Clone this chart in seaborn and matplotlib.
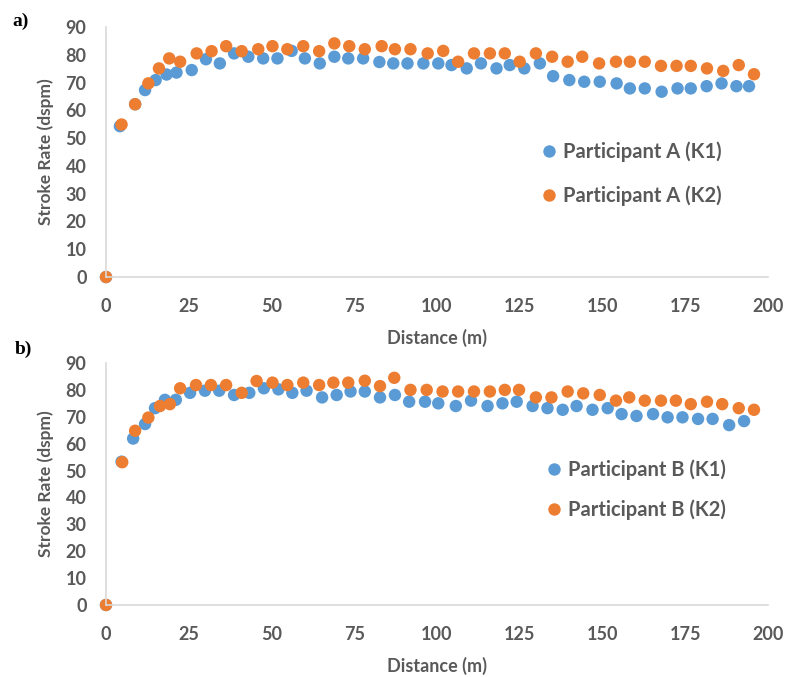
import numpy as np
import pandas as pd
import matplotlib
matplotlib.use('Agg')
import matplotlib.pyplot as plt
import seaborn as sns

# --- data ---
dist_A1 = [0, 4.2, 8.8, 11.8, 15, 18.3, 21.3, 25.9, 30.2, 34.4, 38.7, 43, 47.5, 51.8, 56.1, 60.1,
           64.6, 69, 73.2, 77.7, 82.6, 86.8, 91.1, 95.9, 100.4, 104.4, 109, 113.3, 118, 122, 126.4,
           131.1, 135.1, 140, 144.5, 149.2, 154.3, 158.3, 162.8, 167.9, 172.7, 176.7, 181.5, 186,
           190.5, 194.3]
rate_A1 = [0, 54.3, 62.2, 67.3, 70.9, 72.9, 73.6, 74.5, 78.4, 76.9, 80.5, 79.3, 78.7, 78.7, 81.4, 78.7,
           76.9, 79.3, 78.7, 78.7, 77.4, 76.9, 76.9, 76.9, 76.9, 76.3, 75.1, 76.9, 75.1, 76.3, 75.1,
           76.9, 72.3, 70.9, 70.3, 70.3, 69.7, 67.9, 67.9, 66.7, 67.9, 67.9, 68.7, 69.7, 68.7, 68.7]

dist_A2 = [0, 4.7, 8.8, 12.8, 16, 19.1, 22.4, 27.4, 31.9, 36.3, 41, 46, 50.3, 54.8, 59.6, 64.4,
           69, 73.5, 78.2, 83.3, 87.3, 92, 97.2, 101.9, 106.4, 111.2, 116, 120.5, 125, 129.9,
           134.8, 139.5, 143.9, 149, 154.1, 158.3, 162.8, 167.7, 172.4, 176.7, 181.6, 186.5,
           191.2, 195.8]
rate_A2 = [0, 54.9, 62.2, 69.7, 75.1, 78.7, 77.5, 80.5, 81.3, 83.1, 81.3, 82, 83.1, 82, 83.1, 81.3,
           84.1, 83.1, 82, 83.1, 82, 82, 80.5, 81.4, 77.5, 80.5, 80.5, 80.5, 77.5, 80.5,
           79.3, 77.5, 79.3, 76.9, 77.5, 77.5, 77.5, 76, 76, 76, 75.1, 74.2, 76.3, 73]

dist_B1 = [0, 4.7, 8.2, 11.8, 14.8, 17.8, 21.1, 25.4, 29.9, 34.2, 38.7, 43.3, 47.7, 52.1, 56.3, 60.6,
           65.3, 69.7, 73.9, 78.2, 82.8, 87.3, 91.6, 96.4, 100.4, 105.7, 110.3, 115.3, 119.8, 124.1,
           128.9, 133.4, 138, 142.2, 147, 151.6, 155.8, 160.3, 165.3, 169.7, 174.2, 178.9, 183.3,
           188.3, 192.8]
rate_B1 = [0, 53.3, 61.9, 67.3, 73.2, 76.3, 76.3, 78.9, 79.7, 79.7, 78.1, 78.9, 80.6, 80.2, 78.9, 79.7,
           77.2, 78.1, 79.4, 79.4, 77.2, 78.1, 75.6, 75.6, 75.0, 74.0, 76.0, 74.0, 75.0, 75.6,
           74.0, 73.2, 72.6, 74.0, 72.6, 73.2, 71.0, 70.3, 71.0, 69.8, 69.8, 69.2, 69.2,
           66.9, 68.4]

dist_B2 = [0, 4.9, 8.8, 12.8, 16.3, 19.3, 22.4, 27.2, 31.7, 36.3, 41, 45.5, 50.3, 54.8, 59.6, 64.4,
           68.7, 73.2, 78.2, 82.8, 87.1, 92, 96.9, 101.7, 106.4, 111.2, 116, 120.5, 124.8, 129.9,
           134.6, 139.5, 144.2, 149.2, 154.1, 158.1, 162.8, 167.7, 172.2, 176.7, 181.6, 186.2,
           191.2, 195.8]
rate_B2 = [0, 53.1, 64.8, 69.7, 74.0, 74.7, 80.6, 81.8, 81.8, 81.8, 78.9, 83.3, 82.7, 81.8, 82.7, 81.8,
           82.7, 82.7, 83.4, 81.4, 84.5, 80.0, 80.0, 79.4, 79.4, 79.4, 79.4, 80.0, 80.0, 77.2,
           77.2, 79.4, 78.7, 78.1, 76.0, 77.2, 76.0, 76.0, 76.0, 74.7, 75.6, 74.7, 73.2, 72.6]

x_ticks = [0, 25, 50, 75, 100, 125, 150, 175, 200]
y_ticks = [0, 10, 20, 30, 40, 50, 60, 70, 80, 90]

blue = '#5B9BD5'
orange = '#ED7D31'
grey = '#595959'

sns.set_theme(style="white")
plt.rcParams['font.family'] = ['Lato', 'DejaVu Sans']

fig = plt.figure(figsize=(7.87, 6.77), dpi=100)
ax_a = fig.add_axes([0.1347, 0.5908, 0.841, 0.3693])
ax_b = fig.add_axes([0.1347, 0.1064, 0.841, 0.3574])

# name, panel tag + position, legend anchor (fig coords), legend row spacing
panels = [
    (ax_a, dist_A1, rate_A1, dist_A2, rate_A2, 'Participant A', 'a)', (21, 21), (0.6874, 0.7437), 1.15),
    (ax_b, dist_B1, rate_B1, dist_B2, rate_B2, 'Participant B', 'b)', (23, 349), (0.6938, 0.2770), 0.95),
]

for ax, d1, r1, d2, r2, name, tag, tpos, lpos, lsp in panels:
    df = pd.concat([
        pd.DataFrame({'Distance': d1, 'Rate': r1, 'Series': name + ' (K1)'}),
        pd.DataFrame({'Distance': d2, 'Rate': r2, 'Series': name + ' (K2)'}),
    ])
    sns.scatterplot(data=df, x='Distance', y='Rate', hue='Series',
                    palette=[blue, orange], s=80, linewidth=0, ax=ax)
    ax.set_xlim(0, 200)
    ax.set_ylim(0, 90)
    ax.set_xticks(x_ticks)
    ax.set_yticks(y_ticks)
    ax.tick_params(axis='x', length=0, labelsize=13, labelcolor=grey, pad=15)
    ax.tick_params(axis='y', length=0, labelsize=13, labelcolor=grey, pad=14)
    ax.set_xlabel('Distance (m)', fontsize=13, fontweight='bold', color=grey, labelpad=10)
    ax.set_ylabel('Stroke Rate (dspm)', fontsize=12.5, fontweight='bold', color=grey, labelpad=8)
    for side in ['top', 'right']:
        ax.spines[side].set_visible(False)
    for side in ['left', 'bottom']:
        ax.spines[side].set_color('#D9D9D9')
        ax.spines[side].set_linewidth(1.2)
    for lab in ax.get_xticklabels() + ax.get_yticklabels():
        lab.set_fontweight('bold')
    for c in ax.collections:
        c.set_clip_on(False)
    leg = ax.legend(loc='center left', bbox_to_anchor=lpos, bbox_transform=fig.transFigure,
                    frameon=False, fontsize=14.5, labelspacing=lsp, handlelength=0.8,
                    handletextpad=0.3, borderpad=0, borderaxespad=0)
    for t in leg.get_texts():
        t.set_color(grey)
        t.set_fontweight('bold')
    fig.text(tpos[0] / 787, 1 - tpos[1] / 677, tag, fontsize=14, fontweight='bold',
             family='Liberation Serif', color='black', va='center', ha='center')

fig.savefig('out.png', dpi=100)
